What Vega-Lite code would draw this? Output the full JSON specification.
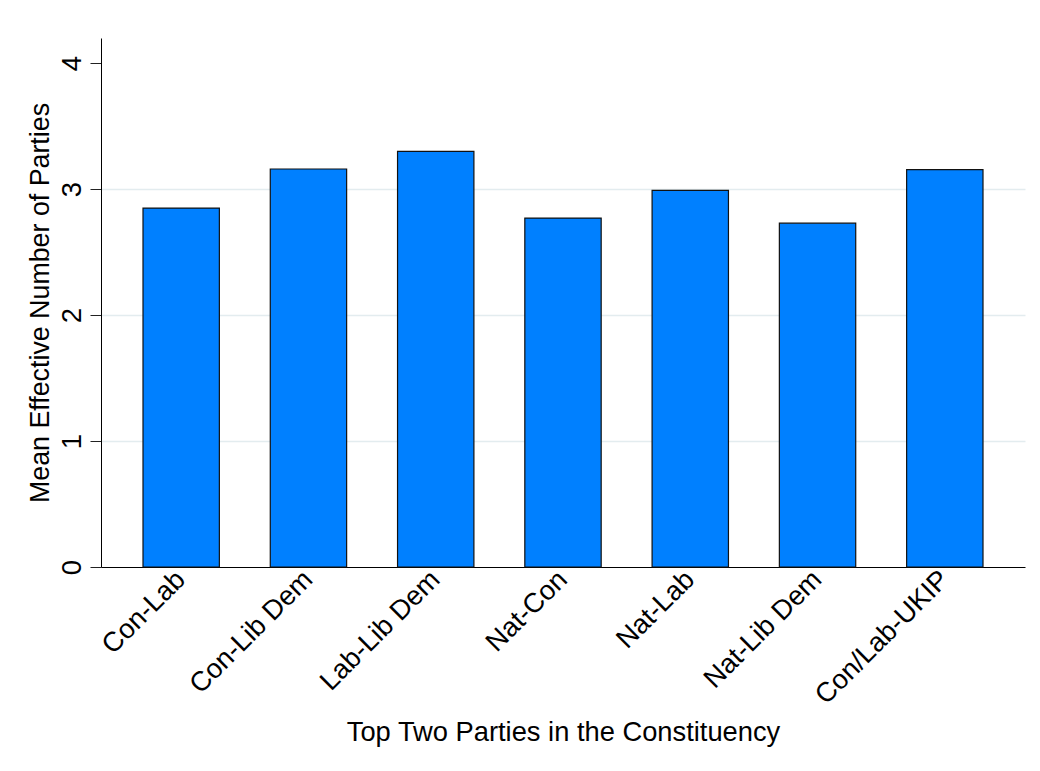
{
  "$schema": "https://vega.github.io/schema/vega-lite/v6.json",
  "autosize": {"type": "none"},
  "width": 924,
  "height": 529,
  "padding": {"left": 101, "top": 38, "right": 15, "bottom": 204},
  "background": "white",
  "config": {
    "view": {"stroke": null},
    "font": "Liberation Sans",
    "axis": {"labelColor": "black", "titleColor": "black", "titleFontWeight": "normal"}
  },
  "data": {
    "values": [
      {"pair": "Con-Lab", "enp": 2.85},
      {"pair": "Con-Lib Dem", "enp": 3.16},
      {"pair": "Lab-Lib Dem", "enp": 3.30},
      {"pair": "Nat-Con", "enp": 2.77},
      {"pair": "Nat-Lab", "enp": 2.99},
      {"pair": "Nat-Lib Dem", "enp": 2.73},
      {"pair": "Con/Lab-UKIP", "enp": 3.155}
    ]
  },
  "mark": {"type": "bar", "color": "#0080ff", "stroke": "#111111", "strokeWidth": 1.2},
  "encoding": {
    "x": {
      "field": "pair",
      "type": "nominal",
      "sort": null,
      "scale": {"paddingInner": 0.4, "paddingOuter": 0.33},
      "axis": {
        "title": "Top Two Parties in the Constituency",
        "titleFontSize": 27.3,
        "titleX": 462,
        "titleY": 173.5,
        "titleBaseline": "alphabetic",
        "titleAlign": "center",
        "labelFontSize": 27.3,
        "labelAngle": -45,
        "labelAlign": "right",
        "labelBaseline": "middle",
        "labelPadding": 8,
        "ticks": false,
        "domainColor": "black",
        "domainWidth": 1,
        "grid": false
      }
    },
    "y": {
      "field": "enp",
      "type": "quantitative",
      "scale": {"domain": [0, 4.2], "nice": false, "zero": true},
      "axis": {
        "title": "Mean Effective Number of Parties",
        "titleFontSize": 26.8,
        "titleAngle": -90,
        "titleX": -52.5,
        "titleY": 264.5,
        "titleBaseline": "alphabetic",
        "titleAlign": "center",
        "values": [0, 1, 2, 3, 4],
        "format": "d",
        "labelFontSize": 27.5,
        "labelAngle": -90,
        "labelAlign": "center",
        "labelBaseline": "alphabetic",
        "labelPadding": 10,
        "tickSize": 11,
        "tickColor": "#222222",
        "domainColor": "black",
        "grid": true,
        "gridColor": "#e3ecef",
        "gridWidth": 1.5,
        "gridOpacity": {"condition": {"test": "datum.value === 0 || datum.value === 4", "value": 0}, "value": 1}
      }
    }
  }
}
